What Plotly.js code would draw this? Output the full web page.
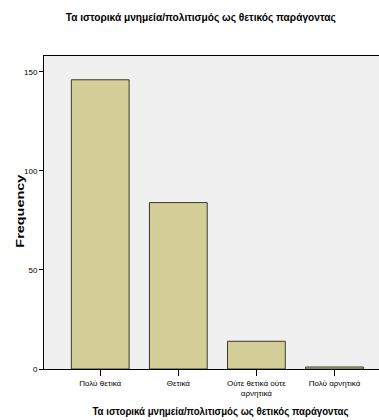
<!DOCTYPE html>
<html><head><meta charset="utf-8">
<script src="https://cdn.plot.ly/plotly-3.0.1.min.js"></script>
<style>html,body{margin:0;padding:0;background:#fff}#c{width:379px;height:420px}</style>
</head><body><div id="c"></div>
<script>
const categories = ["Πολύ θετικά", "Θετικά", "Ούτε θετικά ούτε<br>αρνητικά", "Πολύ αρνητικά"];
const frequencies = [146, 84, 14, 1];
const yTicks = [0, 50, 100, 150];
const titleText = "Τα ιστορικά μνημεία/πολιτισμός ως θετικός παράγοντας";
const yTitle = "Frequency";

const narrow = "Liberation Sans Narrow, Arial Narrow, Liberation Sans, sans-serif";
Plotly.newPlot("c", [{
  type: "bar",
  x: [0, 1, 2, 3],
  y: frequencies,
  marker: {color: "#d3ce97", line: {color: "#3a3a2a", width: 1}},
  width: 0.74,
  hoverinfo: "none"
}], {
  width: 379, height: 420,
  margin: {l: 44, r: 0, t: 56, b: 51},
  paper_bgcolor: "#ffffff",
  plot_bgcolor: "#f0f0f0",
  showlegend: false,
  xaxis: {
    range: [-0.72, 3.57],
    tickmode: "array", tickvals: [0, 1, 2, 3], ticktext: categories,
    ticks: "outside", ticklen: 6, tickcolor: "#000", tickwidth: 1,
    showline: true, linecolor: "#000", linewidth: 1, mirror: true,
    showgrid: false, zeroline: false,
    tickfont: {family: narrow, size: 8, color: "#000"}
  },
  yaxis: {
    range: [0, 158],
    tickmode: "array", tickvals: yTicks,
    ticks: "outside", ticklen: 4, tickcolor: "#000",
    showline: true, linecolor: "#000", linewidth: 1, mirror: false,
    showgrid: false, zeroline: false,
    tickfont: {family: narrow, size: 8, color: "#000"}
  },
  annotations: [
    {text: "<b>" + titleText + "</b>", xref: "paper", yref: "paper", x: (200-44)/335, y: (369-18)/313,
     xanchor: "center", yanchor: "middle", showarrow: false,
     font: {family: "Liberation Sans, Arial, sans-serif", size: 11.5, color: "#000"}},
    {text: "<b>" + titleText + "</b>", xref: "paper", yref: "paper", x: (220-44)/335, y: (369-411)/313,
     xanchor: "center", yanchor: "middle", showarrow: false,
     font: {family: "Liberation Sans, Arial, sans-serif", size: 10.5, color: "#000"}},
    {text: "<b>" + yTitle + "</b>", xref: "paper", yref: "paper", x: (20-44)/335, y: (369-211)/313,
     xanchor: "center", yanchor: "middle", showarrow: false, textangle: -90,
     font: {family: "Liberation Sans, Arial, sans-serif", size: 11, color: "#000"}}
  ]
}, {staticPlot: true}).then(function (gd) {
  const lens = [270, 256, 73];
  const texts = gd.querySelectorAll(".annotation-text");
  texts.forEach(function (t, i) {
    t.setAttribute("textLength", lens[i]);
    t.setAttribute("lengthAdjust", "spacingAndGlyphs");
  });
});
</script></body></html>
